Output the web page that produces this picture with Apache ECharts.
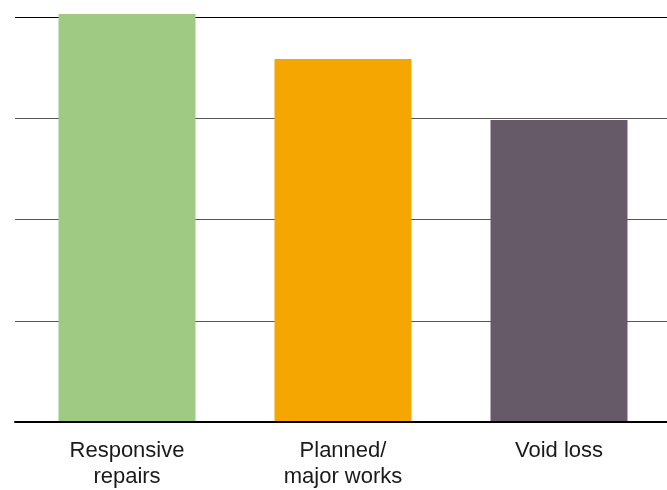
<!DOCTYPE html>
<html>
<head>
<meta charset="utf-8">
<script src="https://cdn.jsdelivr.net/npm/echarts@6/dist/echarts.min.js"></script>
<style>
html,body{margin:0;padding:0;background:#fff;}
#chart{width:667px;height:490px;}
</style>
</head>
<body>
<div id="chart"></div>
<script>
var categories = ['Responsive\nrepairs', 'Planned/\nmajor works', 'Void loss'];
var values = [40.3, 35.85, 29.8];
var barColors = ['#9ECA84', '#F6A600', '#665A68'];
var yTicks = [0, 10, 20, 30, 40];

var chart = echarts.init(document.getElementById('chart'));
var yCommon = {
  type: 'value',
  min: yTicks[0],
  max: yTicks[yTicks.length - 1],
  interval: 10,
  axisLabel: { show: false },
  axisLine: { show: false },
  axisTick: { show: false }
};
chart.setOption({
  animation: false,
  grid: [
    { left: 15, right: 0, top: 17, bottom: 68 },
    { left: 19, right: 0, top: 17, bottom: 68 }
  ],
  xAxis: [{
    type: 'category',
    gridIndex: 0,
    data: categories,
    axisLine: { lineStyle: { color: '#000', width: 2 } },
    axisTick: { show: false },
    axisLabel: { show: false }
  }, {
    type: 'category',
    gridIndex: 1,
    data: categories,
    axisLine: { show: false },
    axisTick: { show: false },
    axisLabel: {
      interval: 0,
      fontFamily: 'Liberation Sans, Arial, sans-serif',
      fontSize: 22,
      lineHeight: 26,
      color: '#1a1a1a',
      margin: 17
    }
  }],
  yAxis: [
    Object.assign({ gridIndex: 0, splitLine: { lineStyle: { color: ['#000', '#555', '#555', '#555', '#000'], width: 1 } } }, yCommon),
    Object.assign({ gridIndex: 1, splitLine: { show: false } }, yCommon)
  ],
  series: [{
    type: 'bar',
    xAxisIndex: 1,
    yAxisIndex: 1,
    clip: false,
    barWidth: 137,
    data: values.map(function (v, i) {
      return { value: v, itemStyle: { color: barColors[i] } };
    })
  }]
});
</script>
</body>
</html>
